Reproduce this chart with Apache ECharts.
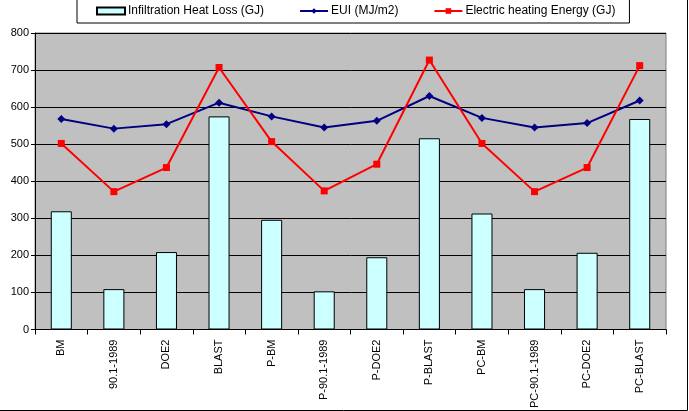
<!DOCTYPE html>
<html>
<head>
<meta charset="utf-8">
<script src="https://cdn.jsdelivr.net/npm/echarts@6/dist/echarts.min.js"></script>
<style>
  html, body { margin: 0; padding: 0; background: #fff; }
  #chart { width: 689px; height: 411px; }
</style>
</head>
<body>
<div id="chart"></div>
<script>
const categories = ['BM', '90.1-1989', 'DOE2', 'BLAST', 'P-BM', 'P-90.1-1989', 'P-DOE2', 'P-BLAST', 'PC-BM', 'PC-90.1-1989', 'PC-DOE2', 'PC-BLAST']
const infiltration = [319, 109, 209, 575, 296, 103, 195, 516, 313, 109, 207, 568]
const eui = [568, 542, 554, 612, 575, 545, 563, 630, 571, 545, 557, 618]
const electric = [502, 372, 437, 707, 507, 374, 446, 727, 502, 372, 437, 712]
const yTicks = { min: 0, max: 800, interval: 100 }

const chart = echarts.init(document.getElementById('chart'))
const font = 'Liberation Sans, Arial, sans-serif'

const option = {
  animation: false,
  textStyle: { fontFamily: font },
  graphic: [
    {
      type: 'rect',
      shape: { x: -1, y: -1, width: 688.5, height: 411.5 },
      style: { fill: 'none', stroke: '#000', lineWidth: 1 },
      z: -1
    }
  ],
  legend: {
    left: 77,
    top: -2,
    width: 600,
    padding: [7, 14, 6, 19],
    itemGap: 35,
    itemWidth: 28,
    itemHeight: 7,
    backgroundColor: '#fff',
    borderColor: '#000',
    borderWidth: 1,
    textStyle: { fontSize: 12, color: '#000', fontFamily: font, padding: [0, 0, 0, -2] },
    data: [
      { name: 'Infiltration Heat Loss (GJ)', icon: 'rect' },
      { name: 'EUI (MJ/m2)' },
      { name: 'Electric heating Energy (GJ)' }
    ]
  },
  grid: {
    left: 35,
    right: 23,
    top: 33,
    bottom: 73,
    show: true,
    backgroundColor: '#c0c0c0',
    borderColor: '#808080',
    borderWidth: 1
  },
  xAxis: {
    type: 'category',
    data: categories,
    boundaryGap: true,
    axisLine: { lineStyle: { color: '#000' } },
    axisTick: { show: true, length: 5, lineStyle: { color: '#000' } },
    axisLabel: { rotate: 90, fontSize: 11, color: '#000', margin: 10, interval: 0 }
  },
  yAxis: {
    type: 'value',
    min: yTicks.min,
    max: yTicks.max,
    interval: yTicks.interval,
    axisLine: { show: true, lineStyle: { color: '#000' } },
    axisTick: { show: true, length: 4, lineStyle: { color: '#000' } },
    axisLabel: { fontSize: 11, color: '#000', margin: 6 },
    splitLine: { lineStyle: { color: '#000', width: 1 } }
  },
  series: [
    {
      name: 'Infiltration Heat Loss (GJ)',
      type: 'bar',
      barWidth: '40%',
      itemStyle: { color: '#ccffff', borderColor: '#000', borderWidth: 1 },
      data: infiltration
    },
    {
      name: 'EUI (MJ/m2)',
      type: 'line',
      symbol: 'diamond',
      symbolSize: 8,
      itemStyle: { color: '#000080' },
      lineStyle: { color: '#000080', width: 2 },
      data: eui
    },
    {
      name: 'Electric heating Energy (GJ)',
      type: 'line',
      symbol: 'rect',
      symbolSize: 7,
      itemStyle: { color: '#ff0000' },
      lineStyle: { color: '#ff0000', width: 2 },
      data: electric
    }
  ]
}

chart.setOption(option)
</script>
</body>
</html>
